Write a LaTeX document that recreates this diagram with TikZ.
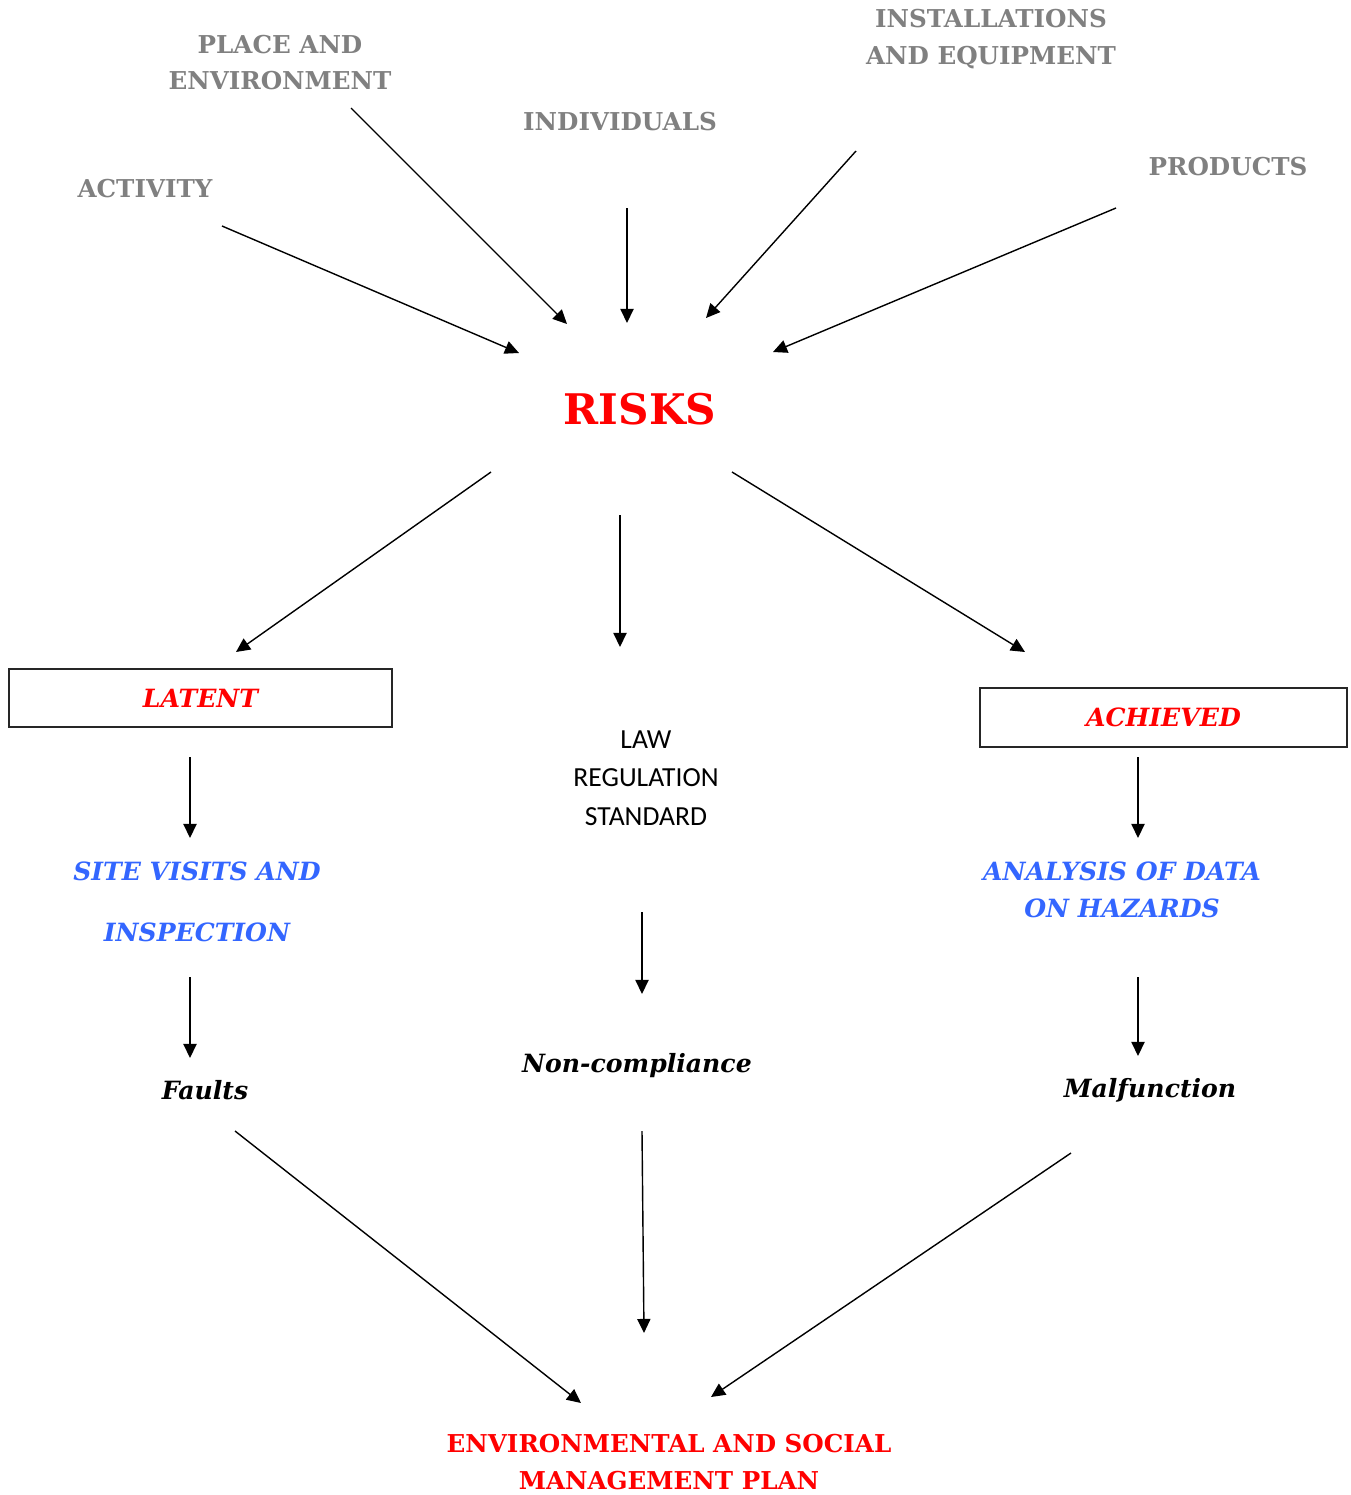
\documentclass[tikz,border=0pt]{standalone}
\usepackage{fontspec}
\setmainfont{DejaVu Serif}
\newfontfamily\lawfont{Carlito}
\usetikzlibrary{arrows.meta}
\definecolor{srcgray}{RGB}{128,128,128}
\definecolor{riskred}{RGB}{255,0,0}
\definecolor{stepblue}{RGB}{51,102,255}
\tikzset{
    ->, % every connector is directed
    >={Triangle[length=8pt, width=7.5pt]}, % filled triangle heads
    x=0.02cm, y=-0.02cm, % one unit is one pixel of the sketch
    source/.style={text=srcgray, font=\bfseries\fontsize{14}{21}\selectfont, align=center, inner sep=0pt},
    risk/.style={text=riskred, font=\bfseries\fontsize{24}{28}\selectfont, inner sep=0pt},
    kind/.style={draw=black!85, line width=1pt, text=riskred, font=\bfseries\itshape\fontsize{14.3}{21}\selectfont},
    law/.style={font=\lawfont\fontsize{15.7}{22}\selectfont, align=center, inner sep=0pt},
    method/.style={text=stepblue, font=\bfseries\itshape\fontsize{14.3}{21}\selectfont, align=center, inner sep=0pt},
    outcome/.style={font=\bfseries\itshape\fontsize{14.3}{21}\selectfont, inner sep=0pt},
    plan/.style={text=riskred, font=\bfseries\fontsize{14}{21}\selectfont, align=center, inner sep=0pt},
}
\begin{document}
\begin{tikzpicture}[line width=0.8pt]
    \useasboundingbox (0,0) rectangle (1351,1495);
    % what the risks come from
    \node[source] (place) at (280,62.5) {PLACE AND\\ENVIRONMENT};
    \node[source] (activity) at (145,189) {ACTIVITY};
    \node[source] (individuals) at (620,122) {INDIVIDUALS};
    \node[source] (installations) at (991,39.5) {INSTALLATIONS\\AND EQUIPMENT};
    \node[source] (products) at (1228,167) {PRODUCTS};
    \node[risk] (risks) at (640,409) {RISKS};
    % the three branches
    \node[kind, minimum width=7.66cm, minimum height=1.16cm] (latent) at (200.5,698) {LATENT};
    \node[law] (law) at (646,778) {LAW\\REGULATION\\STANDARD};
    \node[kind, minimum width=7.34cm, minimum height=1.18cm] (achieved) at (1163.5,717.5) {ACHIEVED};
    \node[method, font=\bfseries\itshape\fontsize{14.3}{35}\selectfont] (site) at (197,902) {SITE VISITS AND\\INSPECTION};
    \node[method] (analysis) at (1122,889.5) {ANALYSIS OF DATA\\ON HAZARDS};
    \node[outcome] (faults) at (205,1090) {Faults};
    \node[outcome] (noncompliance) at (637,1066) {Non-compliance};
    \node[outcome] (malfunction) at (1150,1090) {Malfunction};
    \node[plan] (esmp) at (669,1462) {ENVIRONMENTAL AND SOCIAL\\MANAGEMENT PLAN};
    % ends of the arrows, which stop short of the texts
    \coordinate (activity-out) at (222,226);
    \coordinate (place-out) at (351,108);
    \coordinate (individuals-out) at (627,208);
    \coordinate (installations-out) at (856,151);
    \coordinate (products-out) at (1116,208);
    \coordinate (risks-in1) at (519,353);
    \coordinate (risks-in2) at (567,324);
    \coordinate (risks-in3) at (627,323);
    \coordinate (risks-in4) at (706,318);
    \coordinate (risks-in5) at (773,352);
    \coordinate (risks-out1) at (491,472);
    \coordinate (risks-out2) at (620,515);
    \coordinate (risks-out3) at (732,472);
    \coordinate (latent-in) at (236,652);
    \coordinate (law-in) at (620,647);
    \coordinate (achieved-in) at (1025,652);
    \coordinate (latent-out) at (190,757);
    \coordinate (site-in) at (190,838);
    \coordinate (law-out) at (642,912);
    \coordinate (noncompliance-in) at (642,994);
    \coordinate (achieved-out) at (1138,757);
    \coordinate (analysis-in) at (1138,838);
    \coordinate (site-out) at (190,977);
    \coordinate (faults-in) at (190,1058);
    \coordinate (analysis-out) at (1138,977);
    \coordinate (malfunction-in) at (1138,1056);
    \coordinate (faults-out) at (235,1131);
    \coordinate (noncompliance-out) at (642,1131);
    \coordinate (malfunction-out) at (1071,1153);
    \coordinate (esmp-in1) at (581,1403);
    \coordinate (esmp-in2) at (644,1333);
    \coordinate (esmp-in3) at (711,1397);
    \path
    (activity-out) edge (risks-in1)
    (place-out) edge (risks-in2)
    (individuals-out) edge (risks-in3)
    (installations-out) edge (risks-in4)
    (products-out) edge (risks-in5)
    (risks-out1) edge (latent-in)
    (risks-out2) edge (law-in)
    (risks-out3) edge (achieved-in)
    (latent-out) edge (site-in)
    (law-out) edge (noncompliance-in)
    (achieved-out) edge (analysis-in)
    (site-out) edge (faults-in)
    (analysis-out) edge (malfunction-in)
    (faults-out) edge (esmp-in1)
    (noncompliance-out) edge (esmp-in2)
    (malfunction-out) edge (esmp-in3);
\end{tikzpicture}
\end{document}
